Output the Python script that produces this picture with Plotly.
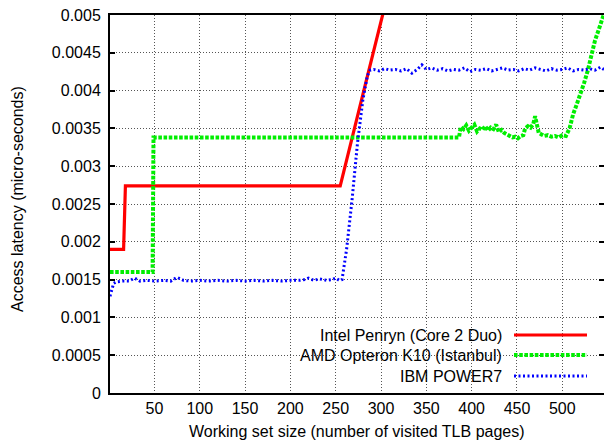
import plotly.graph_objects as go

# ---------------- data ----------------
intel_x = [1, 16, 18, 100, 200, 255, 280, 302, 320]
intel_y = [0.0019, 0.0019, 0.00274, 0.00274, 0.00274, 0.00274, 0.00395, 0.00501, 0.00588]

amd_x = [1, 48, 49, 100, 200, 300, 386, 388, 391, 394, 397, 400, 403, 406, 409, 412,
         415, 418, 421, 424, 427, 430, 433, 436, 439, 442, 445, 448, 451, 454, 457,
         459, 462, 465, 468, 470, 472, 474, 477, 480, 484, 488, 492, 496, 500, 504,
         508, 512, 516, 520, 524, 528, 532, 536, 540, 544, 547]
amd_y = [0.0016, 0.0016, 0.00338, 0.00338, 0.00338, 0.00338, 0.00338, 0.00352, 0.00349,
         0.00354, 0.00347, 0.00351, 0.00355, 0.00346, 0.00350, 0.00348, 0.00353, 0.00347,
         0.00351, 0.00349, 0.00355, 0.00345, 0.00348, 0.00344, 0.00342, 0.00340, 0.00338,
         0.00339, 0.00337, 0.00340, 0.00341, 0.00350, 0.00353, 0.00351, 0.00356, 0.00366,
         0.00352, 0.00344, 0.00342, 0.00340, 0.00341, 0.00339, 0.00340, 0.00338, 0.00341,
         0.00340, 0.00350, 0.00369, 0.00382, 0.00395, 0.00410, 0.00426, 0.00448, 0.00466,
         0.00480, 0.00494, 0.00505]

ibm_x = [1, 3, 5, 8, 15, 22, 28, 34, 42, 50, 60, 68, 75, 82, 90, 100, 110, 120, 130,
         140, 150, 160, 170, 180, 190, 200, 210, 216, 220, 226, 232, 240, 246, 250, 254,
         257, 262, 268, 274, 280, 285, 288, 292, 298, 304, 310, 316, 322, 328, 334, 340,
         345, 350, 356, 362, 368, 374, 380, 386, 392, 398, 404, 410, 416, 422, 428, 434,
         440, 446, 452, 458, 464, 470, 476, 482, 488, 494, 500, 506, 512, 518, 524, 530,
         536, 542, 546]
ibm_y = [0.00128, 0.00138, 0.00145, 0.00147, 0.00148, 0.00148, 0.00152, 0.00148, 0.00149,
         0.00148, 0.00149, 0.00148, 0.00153, 0.00149, 0.00148, 0.00149, 0.00148, 0.00149,
         0.00148, 0.00149, 0.00148, 0.00149, 0.00148, 0.00149, 0.00148, 0.00149, 0.00149,
         0.00150, 0.00152, 0.00149, 0.00151, 0.00149, 0.00150, 0.00152, 0.00149, 0.00150,
         0.00190, 0.00255, 0.00330, 0.00388, 0.00420, 0.00427, 0.00428, 0.00426, 0.00429,
         0.00427, 0.00428, 0.00426, 0.00429, 0.00423, 0.00428, 0.00434, 0.00428, 0.00430,
         0.00427, 0.00429, 0.00426, 0.00428, 0.00427, 0.00430, 0.00425, 0.00428, 0.00427,
         0.00429, 0.00426, 0.00428, 0.00430, 0.00427, 0.00428, 0.00426, 0.00429, 0.00427,
         0.00430, 0.00428, 0.00426, 0.00429, 0.00427, 0.00428, 0.00430, 0.00426, 0.00428,
         0.00427, 0.00429, 0.00427, 0.00431, 0.00428]

series_names = ["Intel Penryn (Core 2 Duo)", "AMD Opteron K10 (Istanbul)", "IBM POWER7"]
x_ticks = [50, 100, 150, 200, 250, 300, 350, 400, 450, 500]
y_ticks = [0, 0.0005, 0.001, 0.0015, 0.002, 0.0025, 0.003, 0.0035, 0.004, 0.0045, 0.005]
y_tick_text = ["0", "0.0005", "0.001", "0.0015", "0.002", "0.0025", "0.003", "0.0035",
               "0.004", "0.0045", "0.005"]

FONT = "Liberation Sans, Arial, sans-serif"
styles = [
    dict(color="#ff0000", width=3.2, dash="solid"),
    dict(color="#00ee00", width=4, dash="3.6px,1.6px"),
    dict(color="#0000ff", width=3, dash="2px,2.5px"),
]

fig = go.Figure()
for (xs, ys), name, st in zip([(intel_x, intel_y), (amd_x, amd_y), (ibm_x, ibm_y)],
                              series_names, styles):
    fig.add_trace(go.Scatter(x=xs, y=ys, mode="lines", name=name, line=st,
                             showlegend=False))
# helper trace for the right-hand mirrored ticks
fig.add_trace(go.Scatter(x=[None], y=[None], yaxis="y2", showlegend=False,
                         hoverinfo="skip"))

fig.update_layout(
    width=604, height=442,
    margin=dict(l=110, r=0, t=15, b=49),
    paper_bgcolor="white", plot_bgcolor="white",
    font=dict(family=FONT, size=16, color="black"),
    xaxis=dict(range=[1, 546], tickvals=x_ticks, showgrid=True, gridcolor="#555",
               griddash="1px,2px", gridwidth=1, showline=True, linecolor="black",
               linewidth=2, mirror=True, ticks="", zeroline=False,
               tickfont=dict(size=16)),
    yaxis=dict(range=[0, 0.005], tickvals=y_ticks, ticktext=y_tick_text, showgrid=True,
               gridcolor="#555", griddash="1px,2px", gridwidth=1, showline=True,
               linecolor="black", linewidth=2, ticks="inside", ticklen=5, tickwidth=1.5,
               tickcolor="black", zeroline=False, tickfont=dict(size=16),
               ticklabelstandoff=4),
    yaxis2=dict(range=[0, 0.005], tickvals=y_ticks, overlaying="y", side="right",
                showticklabels=False, ticks="inside", ticklen=5, tickwidth=1.5,
                tickcolor="black", showgrid=False, showline=False, zeroline=False),
)

# white legend box (covers grid only)
fig.add_shape(type="rect", xref="paper", yref="paper", x0=0.2955, x1=1.0, y0=0.0,
              y1=0.185, fillcolor="white", line=dict(width=0), layer="between")

# legend entries: right aligned text followed by a line sample
row_y = [335, 355, 376]
for name, st, ypx in zip(series_names, styles, row_y):
    yp = (393 - ypx) / 378
    fig.add_annotation(x=(504 - 110) / 494, y=yp, xref="paper", yref="paper",
                       text=name, showarrow=False, xanchor="right", yanchor="middle",
                       font=dict(size=16))
    fig.add_shape(type="line", xref="paper", yref="paper", x0=(514 - 110) / 494,
                  x1=(587 - 110) / 494, y0=yp, y1=yp, line=st, layer="above")

# axis titles
fig.add_annotation(x=0.5, y=(393 - 431) / 378, xref="paper", yref="paper",
                   text="Working set size (number of visited TLB pages)", showarrow=False,
                   xanchor="center", yanchor="middle", font=dict(size=16))
fig.add_annotation(x=(17 - 110) / 494, y=(393 - 199) / 378, xref="paper", yref="paper",
                   text="Access latency (micro-seconds)", showarrow=False, textangle=-90,
                   xanchor="center", yanchor="middle", font=dict(size=16))

fig.write_html("out.html")
